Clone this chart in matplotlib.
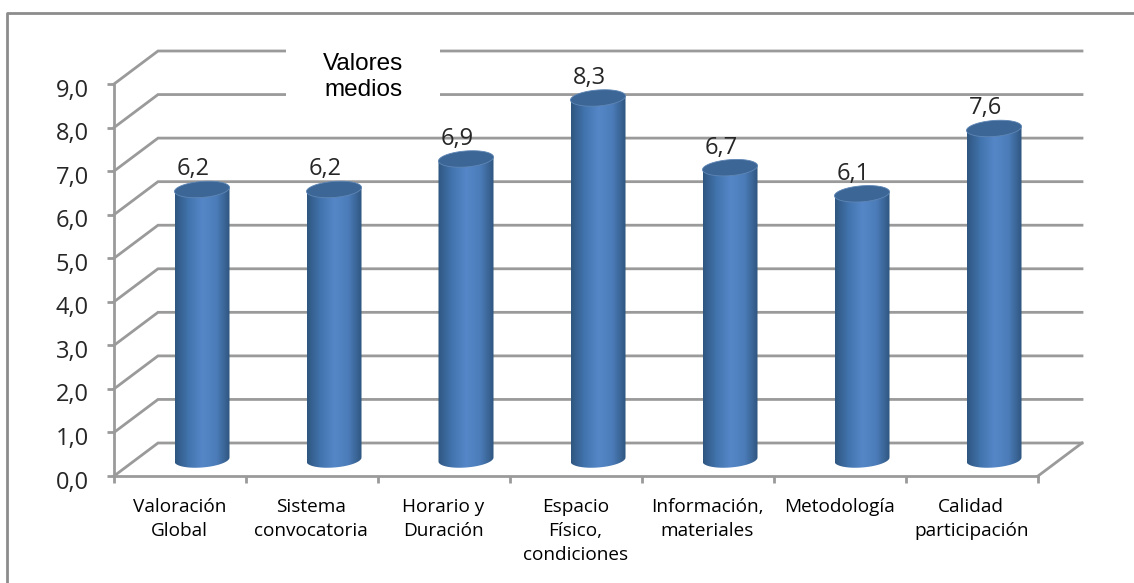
import matplotlib
matplotlib.use("Agg")
import matplotlib.pyplot as plt
import numpy as np
from matplotlib.colors import LinearSegmentedColormap
from matplotlib.lines import Line2D
from matplotlib.patches import PathPatch, Polygon, Rectangle
from matplotlib.path import Path
from matplotlib.transforms import ScaledTranslation

categories = ["Valoración\nGlobal", "Sistema\nconvocatoria", "Horario y\nDuración",
              "Espacio\nFísico,\ncondiciones", "Información,\nmateriales",
              "Metodología", "Calidad\nparticipación"]
values = [6.2, 6.2, 6.9, 8.3, 6.7, 6.1, 7.6]
y_ticks = [0, 1, 2, 3, 4, 5, 6, 7, 8, 9]

W, H = 1134, 583
grid_color = "#9a9a9a"
top_color = "#3b6696"
text_color = "#262626"
bar_cmap = LinearSegmentedColormap.from_list(
    "cyl", ["#2f5680", "#4274ae", "#5587c8", "#4c7dba", "#2f5680"])

fig = plt.figure(figsize=(W / 100, H / 100), dpi=100)

# outer frame, only top and left are inside the picture
fig.add_artist(Line2D([7 / W, 7 / W, 1], [0, 1 - 13 / H, 1 - 13 / H], color="#8c8c8c", lw=2))

# front plane of the fake 3D chart, px 114..1038 and 476..84
ax = fig.add_axes([114 / W, 1 - 476 / H, 924 / W, 392 / H])
ax.patch.set_visible(False)

px_x = 132
px_y = 392 / 9

# depth offset of the back wall, in data units
dx = 44 / px_x
dy = 33 / px_y
right = 7 + dx

for v in y_ticks:
    ax.plot([0, dx, right], [v, v + dy, v + dy], color=grid_color, lw=2,
            clip_on=False, zorder=1, solid_joinstyle="miter")
ax.plot([7, right], [0, dy], color=grid_color, lw=2, clip_on=False, zorder=1)

# cylinders, the ellipses lean a little to the right
half_w = 27.5 / px_x
ell_b = 8 / px_y
tilt = 2 / px_y
gradient = np.linspace(0, 1, 256).reshape(1, -1)


def ellipse_pts(cx, cy, t):
    return np.column_stack([cx + half_w * np.cos(t), cy + ell_b * np.sin(t) + tilt * np.cos(t)])


for i, v in enumerate(values):
    cx = i + 0.5 + dx / 2
    y0 = dy / 2
    y1 = y0 + v
    # side of the cylinder: up the left edge, down the right, round the base
    lower = ellipse_pts(cx, y0, np.linspace(0, -np.pi, 40))
    verts = np.vstack([[(cx + half_w, y1 + tilt)], lower, [(cx - half_w, y1 - tilt)]])
    outline = PathPatch(Path(np.vstack([verts, verts[:1]]), closed=True), fc="none", ec="none",
                        clip_on=False, zorder=3)
    ax.add_patch(outline)
    im = ax.imshow(gradient, extent=[cx - half_w, cx + half_w, y0 - 2 * ell_b, y1 + tilt],
                   cmap=bar_cmap, aspect="auto", zorder=3, interpolation="bilinear")
    im.set_clip_path(outline)
    top = ellipse_pts(cx, y1, np.linspace(0, 2 * np.pi, 80))
    ax.add_patch(Polygon(top, closed=True, fc=top_color, ec="#5f86b5", lw=0.6,
                         clip_on=False, zorder=4))
    ax.text(cx - 9 / px_x, y1 + 20 / px_y, f"{v:.1f}".replace(".", ","), ha="center", va="center",
            fontsize=17, family="Open Sans", color=text_color, zorder=5)

ax.set_xlim(0, 7)
ax.set_ylim(0, 9)

for s in ["top", "right"]:
    ax.spines[s].set_visible(False)
for s in ["left", "bottom"]:
    ax.spines[s].set_color(grid_color)
    ax.spines[s].set_linewidth(2)

ax.set_yticks(y_ticks)
ax.set_yticklabels([f"{v:.1f}".replace(".", ",") for v in y_ticks], fontsize=17,
                   family="Open Sans", color=text_color)
ax.tick_params(axis="y", length=5, width=2, color=grid_color, pad=13)
# tick labels sit a bit below their ticks in the original
nudge = ScaledTranslation(0, -3.5 / 100, fig.dpi_scale_trans)
for label in ax.get_yticklabels():
    label.set_transform(label.get_transform() + nudge)
ax.set_xticks(range(8))
ax.tick_params(axis="x", length=5, width=2, color=grid_color, labelbottom=False)

for i, c in enumerate(categories):
    ax.annotate(c, (i + 0.495, 0), xytext=(0, -16), textcoords="offset points", ha="center",
                va="top", fontsize=13.7, family="Open Sans", color="black", linespacing=1.42)

# title box sits on top of the back wall grid
fig.patches.append(Rectangle((286 / W, 1 - 107 / H), 154 / W, 66 / H, fc="white", ec="none",
                             transform=fig.transFigure, zorder=2))
ax.set_zorder(0)
fig.text(363 / W, 1 - 77 / H, "Valores\nmedios", ha="center", va="center", fontsize=17.5,
         family="Liberation Sans", color="black", linespacing=1.25, zorder=10)

fig.savefig("out.png", dpi=100)
